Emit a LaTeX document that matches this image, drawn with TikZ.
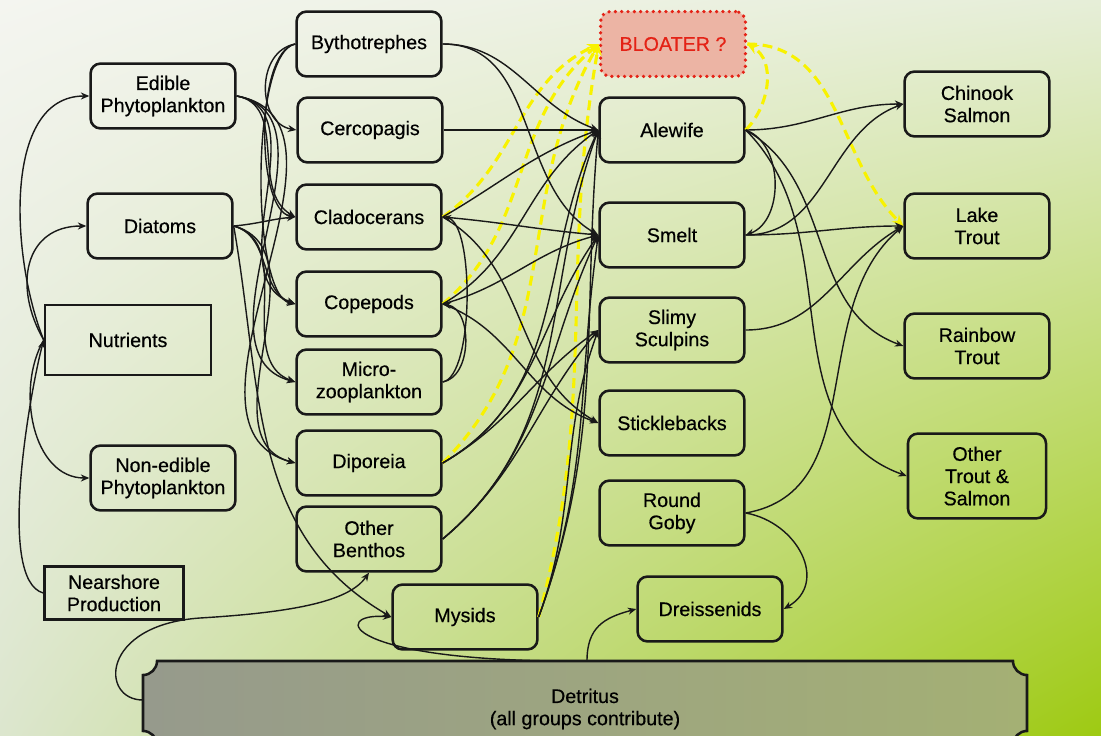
\documentclass[tikz,border=0pt]{standalone}
\usepackage{fontspec}
\setmainfont{Liberation Sans}[FakeBold=0.45]
\usetikzlibrary{arrows.meta,shadings}

\definecolor{bgTL}{RGB}{244,245,240}
\definecolor{bgTR}{RGB}{230,238,216}
\definecolor{bgBL}{RGB}{220,230,206}
\definecolor{bgBR}{RGB}{158,202,18}
\definecolor{detL}{RGB}{150,154,140}
\definecolor{detR}{RGB}{164,176,116}
\definecolor{bloatfill}{RGB}{236,180,164}
\definecolor{bloatred}{RGB}{228,34,22}
\definecolor{ylw}{RGB}{248,242,0}

\begin{document}
\begin{tikzpicture}[x=0.025cm, y=-0.025cm,
	box/.style={draw=black!90, line width=1.8pt, rounded corners=7pt,
		minimum width=3.62cm, minimum height=1.62cm, align=center,
		font=\fontsize{14}{15.8}\selectfont, text=black},
	sqbox/.style={box, rounded corners=0pt},
	eat/.style={draw=black!90, line width=1pt, -{Stealth[length=6pt,width=5pt]}},
	maybe/.style={draw=ylw, line width=2.2pt, dash pattern=on 7pt off 4pt,
		-{Stealth[length=8pt,width=7pt]}}]
	
	% ---- (A) page and background ----
	\def\W{1101}
	\def\H{736}
	\useasboundingbox (0,0) rectangle (\W,\H);
	\shade[upper left=bgTL, upper right=bgTR, lower left=bgBL, lower right=bgBR]
	(0,0) rectangle (\W,\H);
	
	% ---- (B) detritus bar (notched corners) ----
	\def\r{0.35cm}
	\begin{scope}
		\clip (0,0) rectangle (\W,\H);
		\shadedraw[left color=detL, right color=detR, draw=black!90, line width=1.8pt]
		(143,675) arc[start angle=-90, end angle=0, radius=\r]
		-- (1013,661) arc[start angle=180, end angle=270, radius=\r]
		-- (1027,731) arc[start angle=90, end angle=180, radius=\r]
		-- (157,745) arc[start angle=0, end angle=90, radius=\r] -- cycle;
	\end{scope}
	\node[align=center, font=\fontsize{14}{15.8}\selectfont, text=black]
	(detritus) at (585,709) {Detritus\\(all groups contribute)};
	\coordinate (dtop) at (587,661);
	\coordinate (dleft) at (143,700);
	
	% ---- (C) boxes ----
	% producers
	\node[box] (edible) at (163,96) {Edible\\Phytoplankton};
	\node[box] (diatoms) at (160,226) {Diatoms};
	\node[sqbox, minimum width=4.15cm, minimum height=1.75cm] (nutrients) at (128,340) {Nutrients};
	\node[box] (nonedible) at (163,478) {Non-edible\\Phytoplankton};
	\node[sqbox, minimum width=3.47cm, minimum height=1.32cm] (nearshore) at (114,593) {Nearshore\\Production};
	
	% invertebrates
	\node[box] (bytho) at (369,44) {Bythotrephes};
	\node[box] (cercop) at (370,130) {Cercopagis};
	\node[box] (clado) at (369,217) {Cladocerans};
	\node[box] (copep) at (369,304) {Copepods};
	\node[box] (micro) at (369,382) {Micro-\\zooplankton};
	\node[box] (dipor) at (369,463) {Diporeia};
	\node[box] (benthos) at (369,539) {Other\\Benthos};
	\node[box] (mysids) at (465,617) {Mysids};
	
	% forage fish
	\node[box, draw=bloatred, fill=bloatfill, text=bloatred, line width=2.6pt,
	dash pattern=on 0pt off 4.5pt, line cap=round] (bloater) at (673,44) {BLOATER ?};
	\node[box] (alewife) at (672,130) {Alewife};
	\node[box] (smelt) at (672,235) {Smelt};
	\node[box] (sculpin) at (672,330) {Slimy\\Sculpins};
	\node[box] (stickle) at (672,423) {Sticklebacks};
	\node[box] (goby) at (672,513) {Round\\Goby};
	\node[box] (dreiss) at (710,609) {Dreissenids};
	
	% salmonids
	\node[box] (chinook) at (977,104) {Chinook\\Salmon};
	\node[box] (laketr) at (977,226) {Lake\\Trout};
	\node[box] (rainbow) at (977,346) {Rainbow\\Trout};
	\node[box, minimum width=3.45cm, minimum height=2.12cm] (othertr) at (977,476) {Other\\Trout \&\\Salmon};
	
	% ---- (D) bloater links (dashed yellow) ----
	\foreach \a/\o/\i in {clado/35/205, copep/40/220, dipor/45/240, mysids/75/260}
	\draw[maybe] (\a.east) to[out=\o,in=\i] (bloater.west);
	\draw[maybe] (alewife.east) to[out=45,in=-30] (bloater.east);
	\draw[maybe] (bloater.east) to[out=0,in=135] (laketr.west);
	
	% ---- (E) nutrients -> phytoplankton ----
	\draw[eat] (nutrients.west) to[out=112,in=180,looseness=0.9] (edible.west);
	\draw[eat] (nutrients.west) to[out=120,in=180,looseness=1.3] (diatoms.west);
	\draw[eat] (nutrients.west) to[out=240,in=180] (nonedible.west);
	\draw[eat] (nearshore.west) to[out=165,in=255,looseness=0.5] (nutrients.west);
	
	% ---- (F) phytoplankton -> zooplankton ----
	\foreach \a/\b/\o/\i in {edible/clado/-10/150, edible/copep/-10/160,
		edible/micro/-10/165, edible/dipor/-10/165,
		diatoms/clado/5/185, diatoms/copep/-15/160,
		diatoms/micro/-15/160, diatoms/dipor/-15/165}
	\draw[eat] (\a.east) to[out=\o,in=\i] (\b.west);
	\draw[eat] (diatoms.east) to[out=-80,in=150] (mysids.west);
	
	% predatory zooplankton (looping on the left side)
	\foreach \b/\l in {cercop/1.2, clado/0.6, copep/0.45}
	\draw[eat] (bytho.west) to[out=190,in=170,looseness=\l] (\b.west);
	\foreach \b/\l in {clado/0.5, copep/1}
	\draw[eat] (micro.east) to[out=10,in=-10,looseness=\l] (\b.east);
	
	% ---- (G) invertebrates -> forage fish ----
	\foreach \a/\b/\o/\i in {bytho/alewife/0/160, bytho/smelt/0/150,
		cercop/alewife/0/180,
		clado/alewife/30/200, clado/smelt/-5/175, clado/stickle/-30/150,
		copep/alewife/30/215, copep/smelt/15/195, copep/stickle/-20/160,
		dipor/alewife/30/245, dipor/smelt/30/235, dipor/sculpin/30/215,
		benthos/alewife/40/250, benthos/smelt/40/245, benthos/sculpin/40/230,
		mysids/alewife/70/265, mysids/smelt/70/262, mysids/sculpin/70/250}
	\draw[eat] (\a.east) to[out=\o,in=\i] (\b.west);
	
	% ---- (H) forage fish -> salmonids ----
	\foreach \a/\b/\o/\i in {alewife/chinook/0/180, alewife/rainbow/-30/160,
		alewife/othertr/-45/160, smelt/chinook/0/200, smelt/laketr/0/180,
		sculpin/laketr/0/210, goby/laketr/10/220}
	\draw[eat] (\a.east) to[out=\o,in=\i] (\b.west);
	\draw[eat] (alewife.east) to[out=-20,in=20] (smelt.east);
	\draw[eat] (goby.east) to[out=-10,in=30,looseness=1.3] (dreiss.east);
	
	% ---- (I) detritus ----
	\draw[eat] (dtop) to[out=90,in=195,looseness=1.2] (dreiss.west);
	\draw[eat] (dtop) .. controls (340,663) and (330,612) .. (mysids.west);
	\draw[eat] (dleft) .. controls (100,700) and (100,625) .. (200,618)
	.. controls (300,612) and (350,600) .. (benthos.south);
	
\end{tikzpicture}
\end{document}
